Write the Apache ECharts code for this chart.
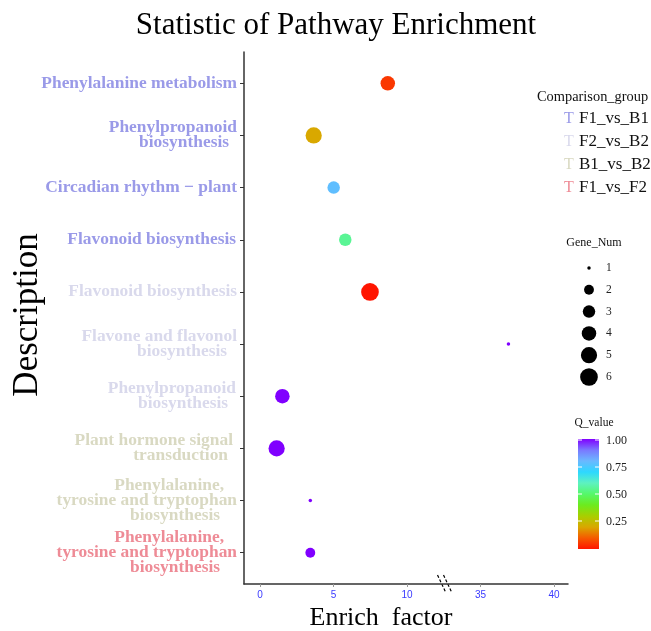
<!DOCTYPE html>
<html>
<head>
<meta charset="utf-8">
<script src="https://cdn.jsdelivr.net/npm/echarts@6/dist/echarts.min.js"></script>
<style>
  html, body { margin: 0; padding: 0; background: #ffffff; }
  #chart { width: 651px; height: 631px; }
</style>
</head>
<body>
<div id="chart"></div>
<script>
// ---- data ----
const pathways = [
  'Phenylalanine metabolism',
  'Phenylpropanoid\nbiosynthesis',
  'Circadian rhythm \u2212 plant',
  'Flavonoid biosynthesis',
  'Flavonoid biosynthesis',
  'Flavone and flavonol\nbiosynthesis',
  'Phenylpropanoid\nbiosynthesis',
  'Plant hormone signal\ntransduction',
  'Phenylalanine,\ntyrosine and tryptophan\nbiosynthesis',
  'Phenylalanine,\ntyrosine and tryptophan\nbiosynthesis'
];
const groups = ['F1_vs_B1', 'F1_vs_B1', 'F1_vs_B1', 'F1_vs_B1', 'F2_vs_B2',
                'F2_vs_B2', 'F2_vs_B2', 'B1_vs_B2', 'B1_vs_B2', 'F1_vs_F2'];
const enrichFactor = [8.69, 3.65, 5.01, 5.80, 7.48, 36.9, 1.52, 1.13, 3.42, 3.42];
const geneNum = [4, 5, 3, 3, 6, 1, 4, 5, 1, 2];
const qValue = [0.05, 0.20, 0.78, 0.55, 0.00, 1.00, 1.00, 1.00, 1.00, 1.00];

const groupNames = ['F1_vs_B1', 'F2_vs_B2', 'B1_vs_B2', 'F1_vs_F2'];
const xTickValues = [0, 5, 10, 35, 40];
const geneLegendValues = [1, 2, 3, 4, 5, 6];
const qLegendValues = [1.00, 0.75, 0.50, 0.25];

// ---- styling ----
const SERIF = '"Liberation Serif", "Times New Roman", serif';
const SANS = '"Liberation Sans", Arial, sans-serif';
const groupColors = {
  F1_vs_B1: '#9a9ae8',
  F2_vs_B2: '#d9d9ec',
  B1_vs_B2: '#d9d9c2',
  F1_vs_F2: '#ee8b96'
};
// rainbow scale for Q_value, from 0 (first) to 1 (last)
const qColors = ['#ff1500', '#f55a00', '#d9a800', '#a8cf00', '#6ceb1e', '#55f86a',
                 '#5ef2c0', '#2dd8ff', '#6bb8ff', '#7a78ff', '#8000ff'];
// right indent (px) for each line of the wrapped axis labels
const lineIndents = [[0], [0, 8], [0], [1], [0], [0, 10], [1, 9], [4, 9], [13, 0, 17], [13, 0, 17]];

// broken x axis: values above the gap are drawn shifted left
const GAP_FROM = 12.5, GAP_SHIFT = 20;
const toAxis = v => (v > GAP_FROM ? v - GAP_SHIFT : v);
const fromAxis = v => (v > GAP_FROM ? v + GAP_SHIFT : v);
const dotSize = n => 3.5 + 14.2 * Math.sqrt((n - 1) / 5);

const rich = {};
pathways.forEach((name, i) => {
  name.split('\n').forEach((line, j) => {
    rich['l' + i + '_' + j] = {
      color: groupColors[groups[i]],
      fontFamily: SERIF,
      fontWeight: 'bold',
      fontSize: 17.4,
      lineHeight: 15,
      padding: [0, (lineIndents[i] && lineIndents[i][j]) || 0, 0, 0]
    };
  });
});

const points = enrichFactor.map((x, i) => [toAxis(x), i, qValue[i], geneNum[i]]);

const chart = echarts.init(document.getElementById('chart'), null, { renderer: 'canvas' });

const option = {
  backgroundColor: '#ffffff',
  animation: false,
  grid: { left: 244, right: 83, top: 52, bottom: 47 },
  xAxis: {
    type: 'value',
    min: -1.09,
    max: 20.95,
    splitLine: { show: false },
    axisLine: { show: true, onZero: false, lineStyle: { color: '#333333', width: 1.5 } },
    axisTick: { show: true, customValues: xTickValues.map(toAxis), length: 3,
                lineStyle: { color: '#999999' } },
    axisLabel: {
      customValues: xTickValues.map(toAxis),
      formatter: v => String(Math.round(fromAxis(v))),
      color: '#3a3aff', fontFamily: SANS, fontSize: 10, margin: 6
    }
  },
  yAxis: {
    type: 'value',
    inverse: true,
    min: -0.6,
    max: 9.6,
    splitLine: { show: false },
    axisLine: { show: true, onZero: false, lineStyle: { color: '#333333', width: 1.5 } },
    axisTick: { show: true, customValues: pathways.map((_, i) => i), length: 4,
                lineStyle: { color: '#333333' } },
    axisLabel: {
      customValues: pathways.map((_, i) => i),
      margin: 7,
      formatter: v => {
        const i = Math.round(v);
        if (i < 0 || i >= pathways.length) return '';
        return pathways[i].split('\n').map((line, j) => '{l' + i + '_' + j + '|' + line + '}').join('\n');
      },
      rich: rich
    }
  },
  visualMap: {
    show: false,
    type: 'continuous',
    dimension: 2,
    min: 0,
    max: 1,
    seriesIndex: 0,
    inRange: { color: qColors }
  },
  series: [{
    type: 'scatter',
    data: points,
    symbol: 'circle',
    symbolSize: d => dotSize(d[3]),
    itemStyle: { opacity: 1 }
  }]
};
chart.setOption(option);

// ---- titles, legends and axis-break mark ----
const g = [];
g.push({ type: 'text', x: 336, y: 26, style: { text: 'Statistic of Pathway Enrichment',
  font: '31px ' + SERIF, fill: '#000', align: 'center', verticalAlign: 'middle' } });
g.push({ type: 'text', x: 28, y: 315, rotation: Math.PI / 2, style: { text: 'Description',
  font: '35px ' + SERIF, fill: '#000', align: 'center', verticalAlign: 'middle' } });
g.push({ type: 'text', x: 381, y: 618, style: { text: 'Enrich  factor',
  font: '26px ' + SERIF, fill: '#000', align: 'center', verticalAlign: 'middle' } });

// axis break
const bx = chart.convertToPixel({ gridIndex: 0 }, [12.55, 9.6]);
[-3, 3].forEach(dx => {
  g.push({ type: 'line', shape: { x1: bx[0] + dx - 4, y1: bx[1] - 9, x2: bx[0] + dx + 4, y2: bx[1] + 8 },
    style: { stroke: '#000', lineWidth: 1.2, lineDash: [3, 2] } });
});

// comparison group legend
g.push({ type: 'text', x: 537, y: 97, style: { text: 'Comparison_group',
  font: '14.4px ' + SERIF, fill: '#111', align: 'left', verticalAlign: 'middle' } });
groupNames.forEach((name, k) => {
  const y = 119 + k * 23;
  g.push({ type: 'text', x: 564, y: y, style: { text: 'T', font: '16px ' + SERIF,
    fill: groupColors[name], align: 'left', verticalAlign: 'middle' } });
  g.push({ type: 'text', x: 579, y: y, style: { text: name, font: '17px ' + SERIF,
    fill: '#111', align: 'left', verticalAlign: 'middle' } });
});

// gene number legend
g.push({ type: 'text', x: 594, y: 243, style: { text: 'Gene_Num', font: '12px ' + SERIF,
  fill: '#111', align: 'center', verticalAlign: 'middle' } });
geneLegendValues.forEach((n, k) => {
  const y = 268 + k * 21.8;
  g.push({ type: 'circle', shape: { cx: 589, cy: y, r: dotSize(n) / 2 }, style: { fill: '#000' } });
  g.push({ type: 'text', x: 606, y: y, style: { text: String(n), font: '11.5px ' + SERIF,
    fill: '#222', align: 'left', verticalAlign: 'middle' } });
});

// Q value colour bar
const barTop = 440, barBottom = 548, barX = 578, barW = 21;
g.push({ type: 'text', x: 594, y: 423, style: { text: 'Q_value', font: '11.5px ' + SERIF,
  fill: '#111', align: 'center', verticalAlign: 'middle' } });
g.push({ type: 'rect', shape: { x: barX, y: barTop - 1, width: barW, height: barBottom - barTop + 2 },
  style: { fill: new echarts.graphic.LinearGradient(0, 1, 0, 0,
    qColors.map((c, i) => ({ offset: i / (qColors.length - 1), color: c }))) } });
qLegendValues.forEach(q => {
  const y = barBottom - q * (barBottom - barTop);
  g.push({ type: 'line', shape: { x1: barX, y1: y, x2: barX + 4, y2: y }, style: { stroke: '#ffffff', lineWidth: 1 } });
  g.push({ type: 'line', shape: { x1: barX + barW - 4, y1: y, x2: barX + barW, y2: y }, style: { stroke: '#ffffff', lineWidth: 1 } });
  g.push({ type: 'text', x: 606, y: y + 1, style: { text: q.toFixed(2), font: '12px ' + SERIF,
    fill: '#222', align: 'left', verticalAlign: 'middle' } });
});

chart.setOption({ graphic: { elements: g } });
</script>
</body>
</html>
